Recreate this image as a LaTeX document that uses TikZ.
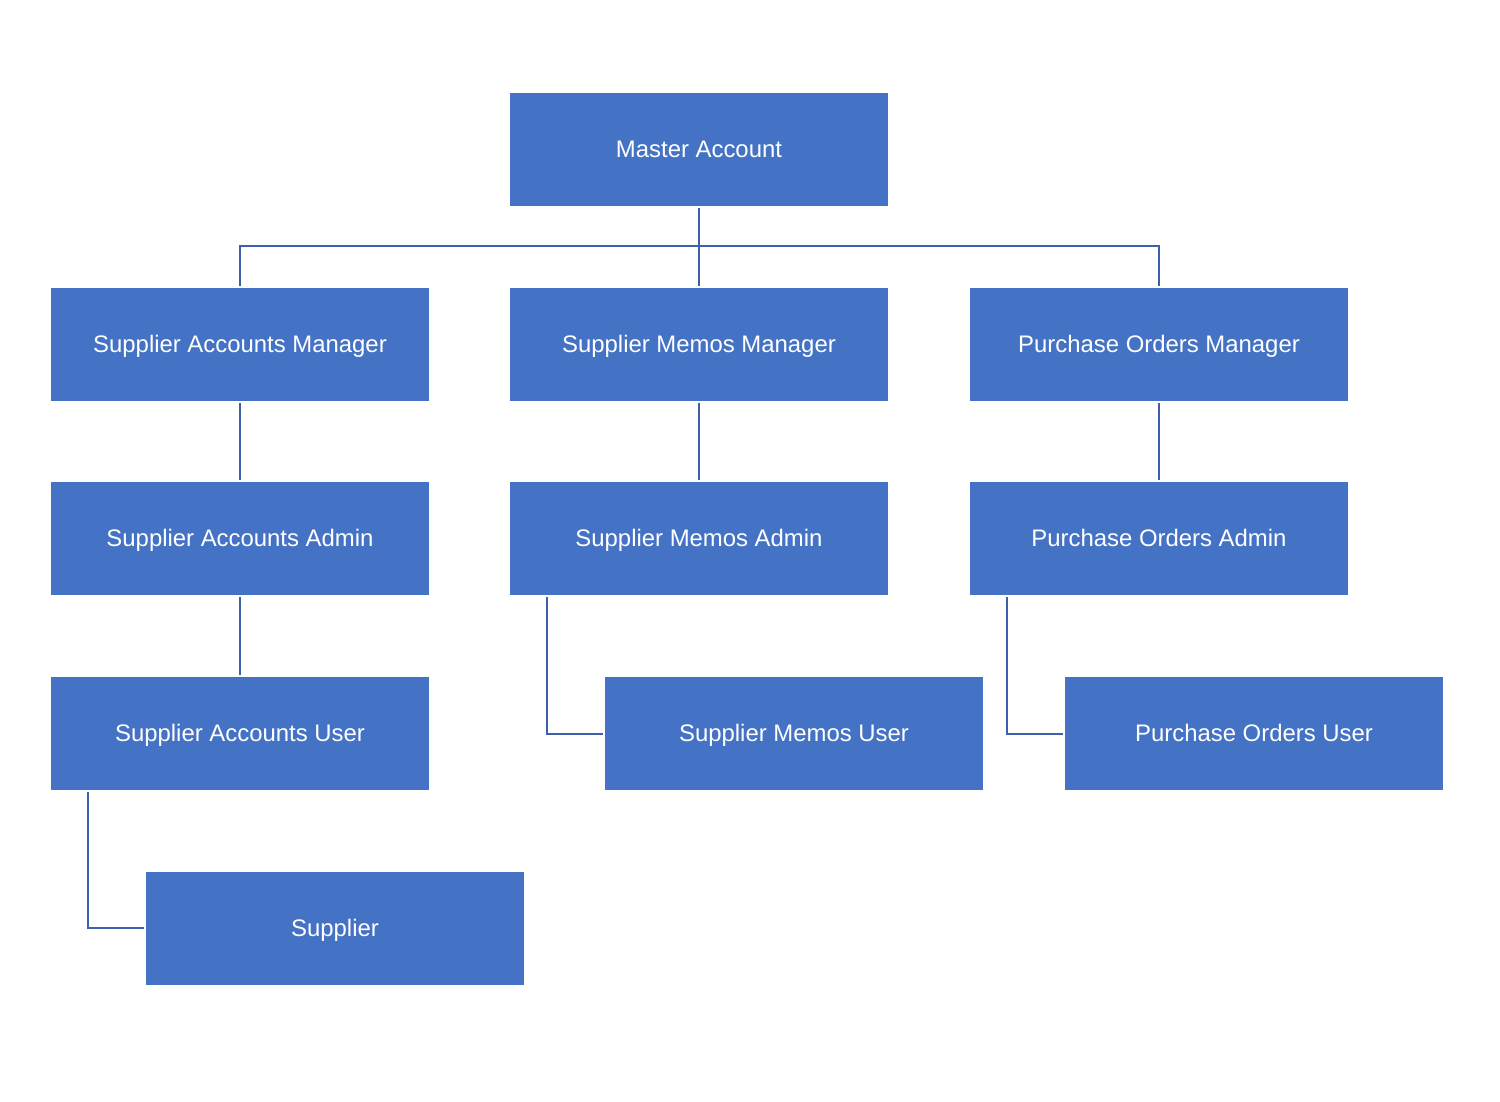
\documentclass[tikz,border=0pt]{standalone}
\usepackage{fontspec}
\setmainfont{Liberation Sans}
\definecolor{boxblue}{HTML}{4472C4}
\definecolor{lineblue}{HTML}{3C61AA}
\begin{document}
\begin{tikzpicture}[x=1pt,y=-1pt,
  box/.style={fill=boxblue,draw=none,minimum width=378pt,minimum height=113pt,inner sep=0pt,
    text height=19pt,text depth=3pt,
    text=white,font=\fontsize{23.9}{28}\selectfont,anchor=center},
  conn/.style={draw=lineblue,line width=2pt}]
\useasboundingbox[fill=white] (0,0) rectangle (1500,1102);
\node[box] (ma) at (699,149.5) {Master Account};
\node[box] (sam) at (240,344.5) {Supplier Accounts Manager};
\node[box] (smm) at (699,344.5) {Supplier Memos Manager};
\node[box] (pom) at (1159,344.5) {Purchase Orders Manager};
\node[box] (saa) at (240,538.5) {Supplier Accounts Admin};
\node[box] (sma) at (699,538.5) {Supplier Memos Admin};
\node[box] (poa) at (1159,538.5) {Purchase Orders Admin};
\node[box] (sau) at (240,733.5) {Supplier Accounts User};
\node[box] (smu) at (794,733.5) {Supplier Memos User};
\node[box] (pou) at (1254,733.5) {Purchase Orders User};
\node[box] (sup) at (335,928) {Supplier};
\coordinate (bus) at (699,246);
% top bus
\draw[conn,line width=2.6pt] ([yshift=-2pt]ma.south) -- (bus);
\draw[conn] ([yshift=2pt]sam.north) |- (bus) -| ([yshift=2pt]pom.north);
\draw[conn] (bus) -- ([yshift=2pt]smm.north);
% vertical
\draw[conn] ([yshift=-2pt]sam.south) -- ([yshift=2pt]saa.north);
\draw[conn] ([yshift=-2pt]smm.south) -- ([yshift=2pt]sma.north);
\draw[conn] ([yshift=-2pt]pom.south) -- ([yshift=2pt]poa.north);
\draw[conn] ([yshift=-2pt]saa.south) -- ([yshift=2pt]sau.north);
% elbows
\draw[conn] ([xshift=37pt,yshift=-2pt]sma.south west) |- ([xshift=-2pt]smu.west);
\draw[conn] ([xshift=37pt,yshift=-2pt]poa.south west) |- ([xshift=-2pt]pou.west);
\draw[conn] ([xshift=37pt,yshift=-2pt]sau.south west) |- ([xshift=-2pt]sup.west);
\end{tikzpicture}
\end{document}
